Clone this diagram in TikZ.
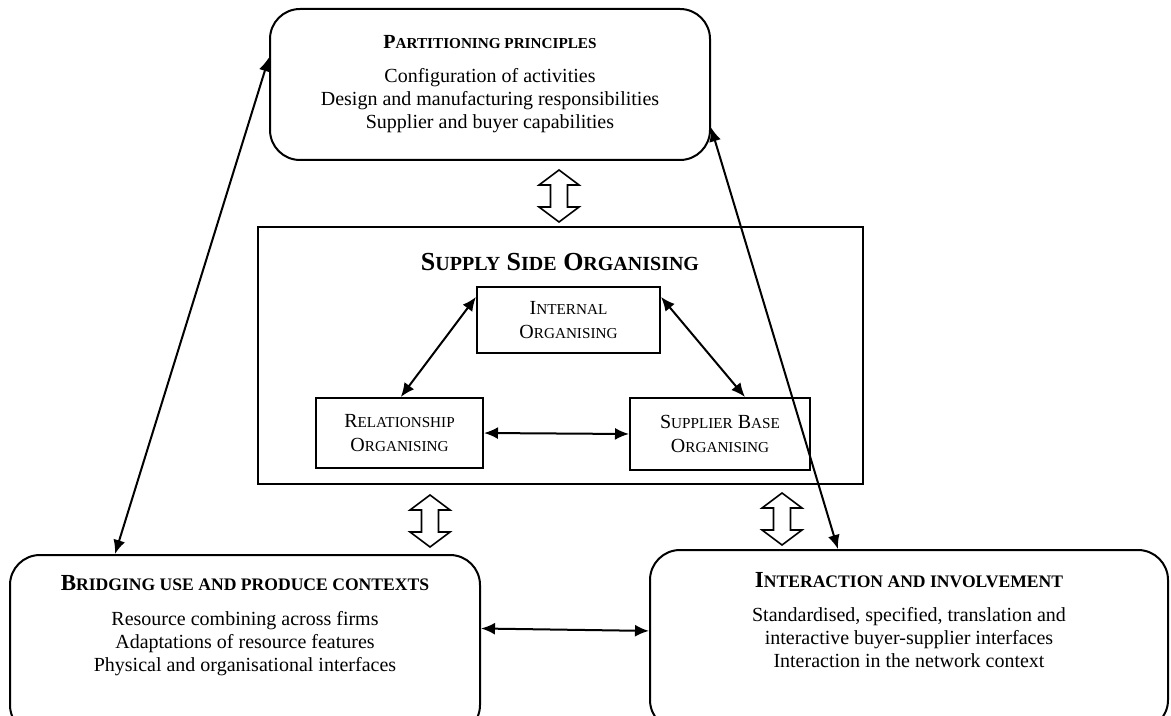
\documentclass[tikz,border=0pt]{standalone}
\usepackage{fontspec}
\setmainfont{Liberation Serif}
\usetikzlibrary{calc,positioning,arrows.meta}

\newcommand{\smc}[1]{{\fontsize{7.6}{9}\selectfont #1}}
\newcommand{\midsmc}[1]{{\fontsize{8.8}{10}\selectfont #1}}
\newcommand{\bigsmc}[1]{{\fontsize{10}{11}\selectfont #1}}

\begin{document}
\begin{tikzpicture}[
    x=0.5pt, y=-0.5pt,
    >={Latex[length=7pt,width=6pt]},
    roundbox/.style = {draw, line width=1pt, rounded corners=15pt, inner sep=0pt},
    framebox/.style = {draw, line width=1pt, inner sep=0pt},
    orgbox/.style   = {draw, line width=1pt, inner sep=0pt, align=center, font=\fontsize{10}{12}\selectfont},
    body/.style     = {align=center, inner sep=0pt, font=\fontsize{10}{11.5}\selectfont},
    link/.style     = {<->, line width=1pt},
    hollow/.pic     = {\draw[line width=0.8pt, fill=white]
        (0,-26) -- (20,-11) -- (8.5,-11) -- (8.5,11) -- (20,11) -- (0,26)
        -- (-20,11) -- (-8.5,11) -- (-8.5,-11) -- (-20,-11) -- cycle;},
  ]
  \useasboundingbox (0,0) rectangle (1171,716);
  \clip (0,0) rectangle (1171,716);

  % Partitioning principles
  \node[roundbox, body, minimum width=220pt, minimum height=75.5pt] (partition) at (490,84.5)
    {\textbf{P\smc{ARTITIONING PRINCIPLES}}\\[5.5pt]
     Configuration of activities\\
     Design and manufacturing responsibilities\\
     Supplier and buyer capabilities};

  % Supply side organising
  \node[framebox, minimum width=302.5pt, minimum height=128.5pt] (supply) at (560.5,355.5) {};
  \node[font=\fontsize{13}{14}\selectfont\bfseries] (supplyTitle) at (560,262)
    {S\bigsmc{UPPLY} S\bigsmc{IDE} O\bigsmc{RGANISING}};
  \node[orgbox, minimum width=91.5pt, minimum height=33pt] (internal) at (568.5,320)
    {I\smc{NTERNAL}\\ O\smc{RGANISING}};
  \node[orgbox, minimum width=83.5pt, minimum height=35pt] (relation) at (399.5,433)
    {R\smc{ELATIONSHIP}\\ O\smc{RGANISING}};
  \node[orgbox, minimum width=90pt, minimum height=36pt] (supplier) at (720,434)
    {S\smc{UPPLIER} B\smc{ASE}\\ O\smc{RGANISING}};

  % Bridging use and produce contexts
  \node[roundbox, minimum width=235pt, minimum height=90pt] (bridge) at (245,645) {};
  \node[body, anchor=north] (bridgeText) at (245,575)
    {{\fontsize{11.5}{12}\selectfont\textbf{B\midsmc{RIDGING USE AND PRODUCE CONTEXTS}}}\\[6pt]
     Resource combining across firms\\
     Adaptations of resource features\\
     Physical and organisational interfaces};

  % Interaction and involvement
  \node[roundbox, minimum width=259pt, minimum height=90pt] (interact) at (909,640) {};
  \node[body, anchor=north] (interactText) at (909,572)
    {{\fontsize{11.5}{12}\selectfont\textbf{I\midsmc{NTERACTION AND INVOLVEMENT}}}\\[5.5pt]
     Standardised, specified, translation and\\
     interactive buyer-supplier interfaces\\
     Interaction in the network context};

  % Pfeile im Kasten
  \draw[link] (internal.166) -- (relation.88);
  \draw[link] (internal.14) -- (supplier.56);
  \draw[link] (relation.east) -- (supplier.west);

  % Pfeile aussen
  \draw[link] (partition.173) -- (bridge.145);
  \draw[link] (partition.-11) -- (interact.128);
  \draw[link] (bridge.4) -- (interact.178);

  % Hohlpfeile
  \pic at (559,196) {hollow};
  \pic at (430,521) {hollow};
  \pic at (782,519) {hollow};
\end{tikzpicture}
\end{document}
